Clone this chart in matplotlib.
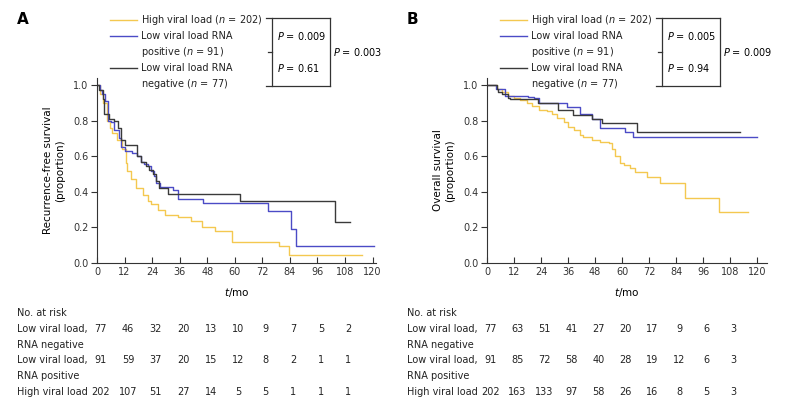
import numpy as np
import matplotlib.pyplot as plt
from matplotlib.transforms import blended_transform_factory

plt.rcParams['font.family'] = 'DejaVu Sans'
plt.rcParams['mathtext.fontset'] = 'dejavusans'

W, H = 800, 415
YEL = '#f4c850'
BLU = '#4b4bc6'
BLK = '#3a3a3a'
FS = 7

# Panel A: recurrence-free survival (step curves)
a_high_t = [0, 1.3, 2.8, 4.3, 5.7, 6.6, 8.8, 11, 12.5, 13.2, 14.7, 16.9, 19.9, 22, 23.5, 26.5, 29.4,
            35.3, 41, 45.6, 51.5, 58.8, 79.4, 83.8, 115.4]
a_high_s = [1.0, 0.95, 0.90, 0.80, 0.76, 0.73, 0.69, 0.64, 0.56, 0.52, 0.47, 0.42, 0.385, 0.35, 0.33,
            0.30, 0.27, 0.26, 0.235, 0.205, 0.178, 0.12, 0.094, 0.047, 0.047]
a_pos_t = [0, 1.3, 2.2, 3.7, 4.7, 6, 7.4, 9.6, 10.3, 12, 15.4, 17.6, 19.1, 20.5, 22, 23.5, 25, 25.7,
           27.6, 33, 35.3, 46.3, 74.3, 84.6, 86.5, 120.6]
a_pos_s = [1.0, 0.97, 0.95, 0.91, 0.80, 0.79, 0.75, 0.70, 0.65, 0.63, 0.62, 0.60, 0.57, 0.555, 0.545,
           0.516, 0.49, 0.45, 0.43, 0.41, 0.36, 0.337, 0.29, 0.19, 0.094, 0.094]
a_neg_t = [0, 1, 2.5, 3.2, 5.4, 7.6, 9, 10.5, 12, 17.6, 19.1, 21.3, 22.8, 24.3, 25.7, 27.2, 30.9,
           62.1, 103.7, 110.3]
a_neg_s = [1.0, 0.97, 0.92, 0.84, 0.81, 0.80, 0.76, 0.69, 0.665, 0.60, 0.57, 0.545, 0.525, 0.50,
           0.46, 0.42, 0.39, 0.35, 0.233, 0.233]

# Panel B: overall survival
b_high_t = [0, 4.3, 6.5, 9.5, 12, 14.8, 17.8, 20, 23, 26.7, 29, 31.1, 34.1, 36, 38.5, 41.5, 42.8,
            46.5, 50, 54, 55.5, 57, 59.3, 61, 63.7, 65.9, 71, 77, 88.1, 103, 116]
b_high_s = [1.0, 0.98, 0.96, 0.94, 0.93, 0.915, 0.90, 0.88, 0.86, 0.855, 0.835, 0.815, 0.79, 0.765,
            0.745, 0.72, 0.71, 0.69, 0.68, 0.675, 0.64, 0.60, 0.56, 0.55, 0.535, 0.51, 0.485, 0.447,
            0.363, 0.288, 0.288]
b_pos_t = [0, 4, 8, 18, 21, 23, 35.4, 41.3, 46.5, 50.2, 61.3, 64.9, 119.9]
b_pos_s = [1.0, 0.98, 0.94, 0.935, 0.925, 0.90, 0.878, 0.84, 0.81, 0.76, 0.734, 0.71, 0.71]
b_neg_t = [0, 4.3, 5, 6.5, 9.5, 10.2, 22.8, 31.6, 38.2, 46.5, 51, 66.5, 112.4]
b_neg_s = [1.0, 0.98, 0.96, 0.95, 0.93, 0.92, 0.90, 0.86, 0.83, 0.81, 0.785, 0.738, 0.738]

risk_times = [0, 12, 24, 36, 48, 60, 72, 84, 96, 108]
a_risk_neg = [77, 46, 32, 20, 13, 10, 9, 7, 5, 2]
a_risk_pos = [91, 59, 37, 20, 15, 12, 8, 2, 1, 1]
a_risk_high = [202, 107, 51, 27, 14, 5, 5, 1, 1, 1]
b_risk_neg = [77, 63, 51, 41, 27, 20, 17, 9, 6, 3]
b_risk_pos = [91, 85, 72, 58, 40, 28, 19, 12, 6, 3]
b_risk_high = [202, 163, 133, 97, 58, 26, 16, 8, 5, 3]

a_p = ['0.009', '0.61', '0.003']
b_p = ['0.005', '0.94', '0.009']

fig = plt.figure(figsize=(W / 100, H / 100), dpi=100)


def fx(x):
    return x / W


def fy(y):
    return 1 - y / H


def panel(x0, xr, xmax, letter, ylab, curves, risks, pv):
    ax = fig.add_axes([fx(x0), fy(263), fx(xr - x0), (263 - 78) / H])
    for t, s, c in curves:
        ax.step(t, s, where='post', color=c, lw=1.0)
    ax.set_xlim(0, xmax)
    ax.set_ylim(0, 1.04)
    ax.set_xticks(range(0, 121, 12))
    ax.set_yticks(np.arange(0, 1.01, 0.2))
    ax.set_yticklabels(['%.1f' % v for v in np.arange(0, 1.01, 0.2)])
    ax.tick_params(axis='x', direction='in', length=4, width=0.8, labelsize=FS, pad=3, colors='#333333')
    ax.tick_params(axis='y', direction='out', length=4, width=0.8, labelsize=FS, pad=2, colors='#333333')
    for k in ['top', 'right']:
        ax.spines[k].set_visible(False)
    for k in ['left', 'bottom']:
        ax.spines[k].set_linewidth(0.8)
        ax.spines[k].set_color('#333333')
    ax.set_ylabel(ylab, fontsize=FS + 0.5, linespacing=1.2, labelpad=6)
    ax.set_xlabel('$\\mathit{t}$/mo', fontsize=FS + 0.5, labelpad=6)

    # panel letter
    ox = x0 - 97
    fig.text(fx(17 + ox), fy(20), letter, fontsize=11, fontweight='bold', va='center', ha='left')

    # legend
    for yy, c in [(20, YEL), (36, BLU), (68, BLK)]:
        fig.add_artist(plt.Line2D([fx(110 + ox), fx(137 + ox)], [fy(yy), fy(yy)], color=c, lw=1.0))
    labels = [(20, 'High viral load ($\\mathit{n}$ = 202)'), (36, 'Low viral load RNA'),
              (52, 'positive ($\\mathit{n}$ = 91)'), (68, 'Low viral load RNA'),
              (84, 'negative ($\\mathit{n}$ = 77)')]
    for yy, s in labels:
        fig.text(fx(141 + ox), fy(yy), s, fontsize=FS, va='center', ha='left', color='#222222')

    # p-value brackets
    bx, ox2 = 272 + ox, 330 + ox
    segs = [((266 + ox, 18), (ox2, 18)), ((bx, 18), (bx, 86)), ((266 + ox, 86), (ox2, 86)),
            ((ox2, 18), (ox2, 86)), ((268 + ox, 52), (bx, 52))]
    for (xa, ya), (xb, yb) in segs:
        fig.add_artist(plt.Line2D([fx(xa), fx(xb)], [fy(ya), fy(yb)], color='#333333', lw=0.9))
    fig.text(fx(277 + ox), fy(36), '$\\mathit{P}$ = ' + pv[0], fontsize=FS, va='center', ha='left')
    fig.text(fx(277 + ox), fy(68), '$\\mathit{P}$ = ' + pv[1], fontsize=FS, va='center', ha='left')
    fig.text(fx(333 + ox), fy(52), '$\\mathit{P}$ = ' + pv[2], fontsize=FS, va='center', ha='left')

    # number at risk table
    lx = fx(17 + ox)
    rows = [(313, 'No. at risk'), (329, 'Low viral load,'), (345, 'RNA negative'),
            (360, 'Low viral load,'), (376, 'RNA positive'), (392, 'High viral load')]
    for yy, s in rows:
        fig.text(lx, fy(yy), s, fontsize=FS, va='center', ha='left', color='#222222')
    tr = blended_transform_factory(ax.transData, fig.transFigure)
    for yy, vals in zip([329, 360, 392], risks):
        for t, v in zip(risk_times, vals):
            ax.text(t + 1.5, fy(yy), str(v), transform=tr, fontsize=FS, va='center', ha='center',
                    color='#222222')
    return ax


panel(97, 376, 121.5, 'A', 'Recurrence-free survival\n(proportion)',
      [(a_high_t, a_high_s, YEL), (a_pos_t, a_pos_s, BLU), (a_neg_t, a_neg_s, BLK)],
      [a_risk_neg, a_risk_pos, a_risk_high], a_p)
panel(487, 767, 124.4, 'B', 'Overall survival\n(proportion)',
      [(b_high_t, b_high_s, YEL), (b_pos_t, b_pos_s, BLU), (b_neg_t, b_neg_s, BLK)],
      [b_risk_neg, b_risk_pos, b_risk_high], b_p)

fig.savefig('out.png', dpi=100)
